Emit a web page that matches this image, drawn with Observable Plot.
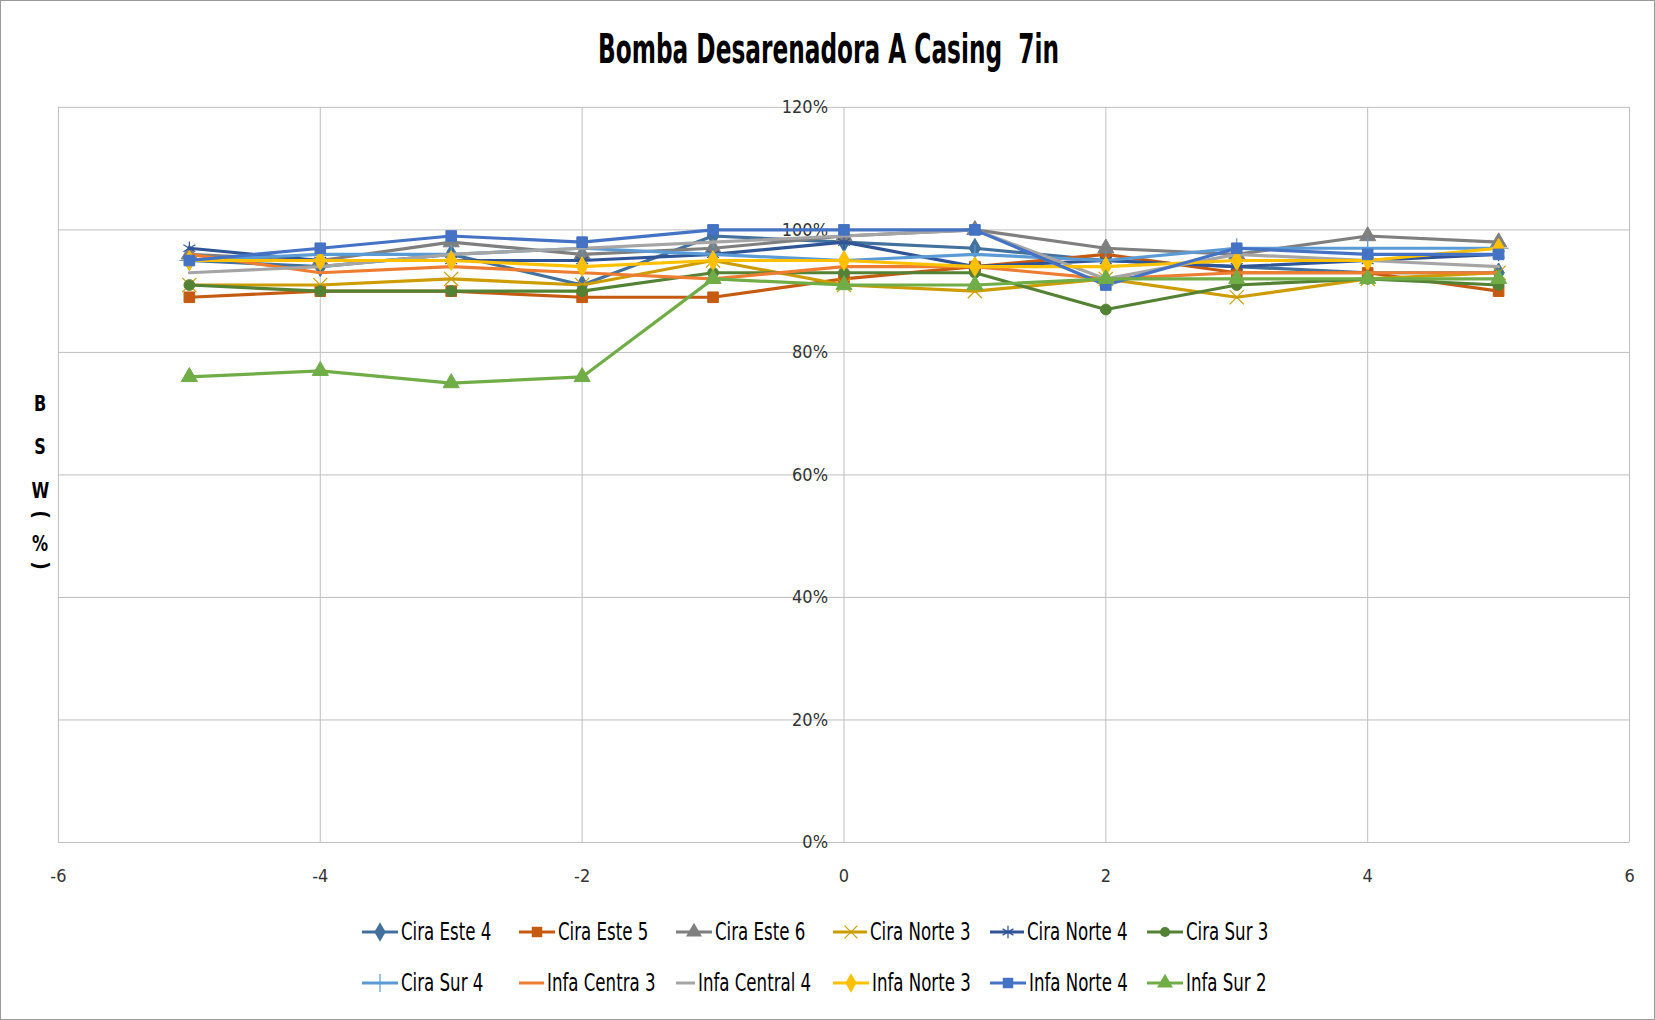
<!DOCTYPE html>
<html><head><meta charset="utf-8">
<script src="https://cdn.jsdelivr.net/npm/d3@7"></script>
<script src="https://cdn.jsdelivr.net/npm/@observablehq/plot@0.6"></script>
<style>
body{margin:0;background:#fff;}
#wrap{position:relative;width:1653px;height:1018px;border:1px solid #9a9a9a;overflow:hidden;background:#fff;
 font-family:"Liberation Sans Narrow","DejaVu Sans Condensed","Liberation Sans",sans-serif;font-stretch:condensed;}
#chart{position:absolute;left:0;top:0;}
#title{position:absolute;left:0;width:1655px;top:28px;text-align:center;font-size:34px;font-weight:bold;color:#000;transform:scale(0.76,1.2);white-space:pre;}
.yl{position:absolute;left:29px;width:20px;text-align:center;font-size:21px;font-weight:bold;color:#000;line-height:1;transform:scaleX(0.85);}
#legend{position:absolute;left:361px;top:905px;}
.row{display:flex;height:51px;align-items:center;}
.item{display:flex;align-items:center;width:157px;}
.item span{display:inline-block;font-size:22px;color:#000;margin-left:3px;white-space:nowrap;transform:scale(0.84,1.12);transform-origin:left center;}
</style></head>
<body>
<div id="wrap">
  <div id="chart"></div>
  <div id="title">Bomba Desarenadora A Casing  7in</div>
  <div class="yl" style="top:393px">B</div>
  <div class="yl" style="top:436px">S</div>
  <div class="yl" style="top:480px">W</div>
  <div class="yl" style="top:503px;transform:rotate(90deg)">(</div>
  <div class="yl" style="top:533px">%</div>
  <div class="yl" style="top:554px;transform:rotate(90deg)">)</div>
  <div id="legend"></div>
</div>
<script>
// ---- data ----
const xValues = [-5, -4, -3, -2, -1, 0, 1, 2, 3, 4, 5];
const seriesNames = ["Cira Este 4","Cira Este 5","Cira Este 6","Cira Norte 3","Cira Norte 4","Cira Sur 3",
                     "Cira Sur 4","Infa Centra 3","Infa Central 4","Infa Norte 3","Infa Norte 4","Infa Sur 2"];
const ciraEste4    = [95, 94, 96, 91, 99, 98, 97, 95, 94, 93, 93];
const ciraEste5    = [89, 90, 90, 89, 89, 92, 94, 96, 93, 93, 90];
const ciraEste6    = [96, 95, 98, 96, 97, 99, 100, 97, 96, 99, 98];
const ciraNorte3   = [91, 91, 92, 91, 95, 91, 90, 92, 89, 92, 93];
const ciraNorte4   = [97, 95, 95, 95, 96, 98, 94, 95, 94, 95, 96];
const ciraSur3     = [91, 90, 90, 90, 93, 93, 93, 87, 91, 92, 91];
const ciraSur4     = [95, 96, 96, 97, 96, 95, 96, 95, 97, 97, 97];
const infaCentra3  = [96, 93, 94, 93, 92, 94, 94, 92, 93, 93, 93];
const infaCentral4 = [93, 94, 96, 97, 98, 99, 100, 92, 96, 95, 94];
const infaNorte3   = [95, 95, 95, 94, 95, 95, 94, 94, 95, 95, 97];
const infaNorte4   = [95, 97, 99, 98, 100, 100, 100, 91, 97, 96, 96];
const infaSur2     = [76, 77, 75, 76, 92, 91, 91, 92, 92, 92, 92];
const seriesValues = [ciraEste4, ciraEste5, ciraEste6, ciraNorte3, ciraNorte4, ciraSur3,
                      ciraSur4, infaCentra3, infaCentral4, infaNorte3, infaNorte4, infaSur2];
const xTicks = [-6, -4, -2, 0, 2, 4, 6];
const xTickLabels = ["-6", "-4", "-2", "0", "2", "4", "6"];
const yTicks = [0, 20, 40, 60, 80, 100, 120];
const titleText = "Bomba Desarenadora A Casing  7in";

// ---- styles ----
const colors  = ["#41719C","#C55A11","#7F7F7F","#CC9C00","#2F5597","#548235",
                 "#5B9BD5","#ED7D31","#A5A5A5","#FFC000","#4472C4","#70AD47"];
const symbols = ["diamond","square","triangle","times","asterisk","circle",
                 "plus",null,null,"diamond","square","triangle"];
const strokeSym = new Set(["times","asterisk","plus"]);
const d3Sym = {diamond:d3.symbolDiamond, square:d3.symbolSquare, triangle:d3.symbolTriangle,
               times:d3.symbolTimes, asterisk:d3.symbolAsterisk, circle:d3.symbolCircle, plus:d3.symbolPlus};

const rows = [];
seriesNames.forEach((name, i) => xValues.forEach((x, j) => rows.push({series: name, idx: i, x, y: seriesValues[i][j]})));

const marks = [
  Plot.gridX(xTicks, {stroke: "#bfbfbf", strokeOpacity: 1, strokeWidth: 1}),
  Plot.gridY(yTicks, {stroke: "#bfbfbf", strokeOpacity: 1, strokeWidth: 1}),
  Plot.axisX(xTicks, {tickSize: 0, tickPadding: 27, fontSize: 18, fill: "#333", label: null,
                      tickFormat: d => xTickLabels[xTicks.indexOf(d)]}),
  Plot.text(yTicks, {x: () => 0, y: d => d, text: d => d + "%", textAnchor: "end", dx: -16, fontSize: 18, fill: "#333"})
];
seriesNames.forEach((name, i) => {
  const data = rows.filter(r => r.idx === i);
  marks.push(Plot.line(data, {x: "x", y: "y", stroke: colors[i], strokeWidth: 3.2, strokeLinejoin: "round"}));
  const s = symbols[i];
  if (s) {
    if (strokeSym.has(s)) {
      marks.push(Plot.dot(data, {x: "x", y: "y", symbol: s, r: 6.5, stroke: colors[i], strokeWidth: 1.2, fill: "none"}));
    } else {
      marks.push(Plot.dot(data, {x: "x", y: "y", symbol: s, r: s === "circle" ? 5.4 : 6, fill: colors[i], stroke: colors[i], strokeWidth: 1}));
    }
  }
});

const chart = Plot.plot({
  width: 1655, height: 905,
  marginTop: 106, marginBottom: 63, marginLeft: 57, marginRight: 25,
  style: {fontFamily: '"Liberation Sans Narrow","DejaVu Sans Condensed","Liberation Sans",sans-serif', fontStretch: "condensed", background: "transparent"},
  x: {domain: [-6, 6], axis: null},
  y: {domain: [0, 120], axis: null},
  marks
});
document.getElementById("chart").appendChild(chart);
document.getElementById("title").textContent = titleText;

// ---- legend ----
const legend = d3.select("#legend");
for (let r = 0; r < 2; r++) {
  const row = legend.append("div").attr("class", "row");
  for (let c = 0; c < 6; c++) {
    const i = r * 6 + c;
    const item = row.append("div").attr("class", "item");
    const svg = item.append("svg").attr("width", 36).attr("height", 20);
    svg.append("line").attr("x1", 0).attr("x2", 36).attr("y1", 10).attr("y2", 10)
      .attr("stroke", colors[i]).attr("stroke-width", 3.2);
    const s = symbols[i];
    if (s) {
      const p = svg.append("path").attr("transform", "translate(18,10)")
        .attr("d", d3.symbol(d3Sym[s], s === "circle" ? 80 : 110)());
      if (strokeSym.has(s)) p.attr("fill", "none").attr("stroke", colors[i]).attr("stroke-width", 1.2);
      else p.attr("fill", colors[i]);
    }
    item.append("span").text(seriesNames[i]);
  }
}
</script>
</body></html>
